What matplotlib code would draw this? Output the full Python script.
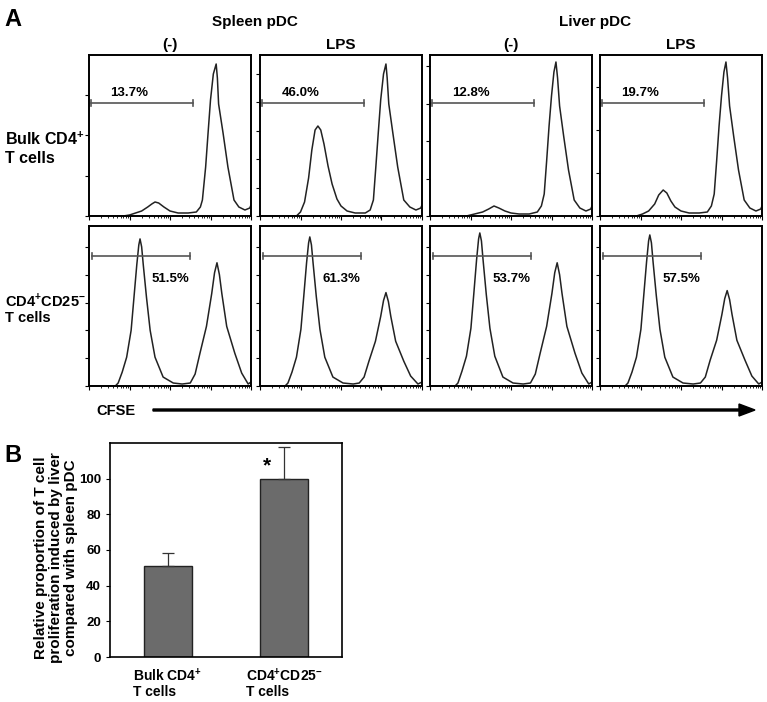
import matplotlib.pyplot as plt
from matplotlib.patches import FancyArrow
from matplotlib.ticker import MultipleLocator, LogLocator, NullFormatter

plt.rcParams['font.family'] = ['Liberation Sans', 'DejaVu Sans']
plt.rcParams['font.weight'] = 'bold'
plt.rcParams['mathtext.fontset'] = 'custom'
plt.rcParams['mathtext.rm'] = 'Liberation Sans:bold'
plt.rcParams['mathtext.bf'] = 'Liberation Sans:bold'

W, H = 767, 702

# ---- panel A data: CFSE histograms (x in log decades, y in counts) ----
group_titles = ['Spleen pDC', 'Liver pDC']
col_titles = ['(-)', 'LPS', '(-)', 'LPS']
row_labels = ['Bulk CD4$^{\\mathbf{+}}$\nT cells', 'CD4$^{\\mathbf{+}}$CD25$^{\\mathbf{-}}$\nT cells']
gate_labels = [['13.7%', '46.0%', '12.8%', '19.7%'],
               ['51.5%', '61.3%', '53.7%', '57.5%']]

spl_ctrl_bulk_x = [0, 0.85, 1.0, 1.15, 1.3, 1.45, 1.55, 1.63, 1.72, 1.85, 2.0, 2.2, 2.45, 2.65, 2.75,
                   2.8, 2.88, 2.94, 3.0, 3.07, 3.14, 3.17, 3.2, 3.31, 3.43, 3.58, 3.7, 3.85, 3.97, 4.0]
spl_ctrl_bulk_y = [0, 0, 1, 3, 5, 9, 12, 14, 13, 9, 5, 3, 3, 4, 9,
                   16, 49, 83, 116, 142, 152, 138, 112, 83, 49, 16, 9, 6, 8, 11]

spl_lps_bulk_x = [0, 0.9, 1.0, 1.1, 1.2, 1.28, 1.36, 1.43, 1.5, 1.58, 1.68, 1.78, 1.9, 2.0, 2.15, 2.35, 2.6,
                  2.72, 2.8, 2.86, 2.92, 2.98, 3.05, 3.11, 3.14, 3.18, 3.28, 3.4, 3.55, 3.7, 3.85, 3.97, 4.0]
spl_lps_bulk_y = [0, 0, 4, 14, 38, 66, 86, 90, 86, 72, 50, 32, 17, 10, 5, 3, 3,
                  6, 16, 49, 83, 116, 142, 152, 138, 112, 83, 49, 16, 9, 6, 8, 11]

liv_ctrl_bulk_x = [0, 0.9, 1.1, 1.3, 1.45, 1.58, 1.7, 1.85, 2.0, 2.2, 2.45, 2.65, 2.75, 2.82, 2.88,
                   2.94, 3.0, 3.06, 3.11, 3.15, 3.2, 3.3, 3.42, 3.56, 3.7, 3.85, 3.97, 4.0]
liv_ctrl_bulk_y = [0, 0, 2, 4, 7, 10, 8, 5, 3, 2, 2, 4, 10, 22, 55,
                   90, 120, 144, 154, 138, 110, 80, 46, 16, 8, 5, 7, 10]

liv_lps_bulk_x = [0, 0.9, 1.05, 1.2, 1.35, 1.45, 1.56, 1.65, 1.75, 1.85, 2.0, 2.2, 2.45, 2.65, 2.75,
                  2.82, 2.88, 2.94, 3.0, 3.06, 3.11, 3.15, 3.2, 3.3, 3.42, 3.56, 3.7, 3.85, 3.97, 4.0]
liv_lps_bulk_y = [0, 0, 2, 5, 12, 21, 26, 23, 15, 9, 5, 3, 3, 4, 10,
                  22, 55, 90, 120, 144, 154, 138, 110, 80, 46, 16, 8, 5, 7, 10]

spl_ctrl_25_x = [0, 0.65, 0.72, 0.82, 0.93, 1.04, 1.11, 1.18, 1.23, 1.26, 1.3, 1.34, 1.42, 1.51, 1.63,
                 1.83, 2.08, 2.3, 2.5, 2.62, 2.74, 2.9, 3.03, 3.1, 3.16, 3.22, 3.28, 3.4, 3.6, 3.77, 3.93, 4.0]
spl_ctrl_25_y = [0, 0, 3, 14, 29, 56, 89, 122, 142, 148, 140, 122, 89, 56, 29,
                 9, 3, 2, 3, 12, 33, 60, 93, 114, 124, 112, 93, 60, 33, 13, 2, 4]

spl_lps_25_x = [0, 0.62, 0.69, 0.79, 0.9, 1.01, 1.08, 1.15, 1.2, 1.23, 1.27, 1.31, 1.39, 1.48, 1.6,
                1.8, 2.05, 2.3, 2.45, 2.57, 2.69, 2.85, 2.98, 3.05, 3.11, 3.17, 3.23, 3.35, 3.55, 3.72, 3.9, 4.0]
spl_lps_25_y = [0, 0, 3, 14, 29, 57, 90, 124, 144, 150, 142, 124, 90, 57, 29,
                9, 3, 2, 3, 9, 25, 45, 70, 86, 94, 85, 70, 45, 25, 10, 2, 4]

liv_ctrl_25_x = [0, 0.62, 0.69, 0.79, 0.9, 1.01, 1.08, 1.15, 1.2, 1.23, 1.27, 1.31, 1.39, 1.48, 1.6,
                 1.8, 2.05, 2.3, 2.48, 2.6, 2.72, 2.88, 3.01, 3.08, 3.14, 3.2, 3.26, 3.38, 3.58, 3.75, 3.92, 4.0]
liv_ctrl_25_y = [0, 0, 3, 15, 30, 58, 92, 127, 148, 154, 146, 127, 92, 58, 30,
                 9, 3, 2, 3, 12, 33, 60, 93, 114, 124, 112, 93, 60, 33, 13, 2, 4]

liv_lps_25_x = [0, 0.62, 0.69, 0.79, 0.9, 1.01, 1.08, 1.15, 1.2, 1.23, 1.27, 1.31, 1.39, 1.48, 1.6,
                1.8, 2.05, 2.3, 2.48, 2.6, 2.72, 2.88, 3.01, 3.08, 3.14, 3.2, 3.26, 3.38, 3.58, 3.75, 3.92, 4.0]
liv_lps_25_y = [0, 0, 3, 14, 29, 57, 91, 125, 146, 152, 144, 125, 91, 57, 29,
                9, 3, 2, 3, 9, 26, 46, 72, 88, 96, 87, 72, 46, 26, 10, 2, 4]

hist_x = [[spl_ctrl_bulk_x, spl_lps_bulk_x, liv_ctrl_bulk_x, liv_lps_bulk_x],
          [spl_ctrl_25_x, spl_lps_25_x, liv_ctrl_25_x, liv_lps_25_x]]
hist_y = [[spl_ctrl_bulk_y, spl_lps_bulk_y, liv_ctrl_bulk_y, liv_lps_bulk_y],
          [spl_ctrl_25_y, spl_lps_25_y, liv_ctrl_25_y, liv_lps_25_y]]

# gate marker: start/end decade, height; label decade, height
gate_span = [(0.05, 2.57), (0.07, 2.49)]
gate_height = [113, 131]
label_pos = [(1.0, 123), (2.02, 108)]
ytick_step = [[40.5, 28.5, 37.5, 43], [28, 28, 28, 28]]

# ---- panel B data ----
b_categories = ['Bulk CD4$^{\\mathbf{+}}$\nT cells', 'CD4$^{\\mathbf{+}}$CD25$^{\\mathbf{-}}$\nT cells']
b_values = [51, 100]
b_errors = [7.5, 18]
b_yticks = [0, 20, 40, 60, 80, 100]


def px_axes(fig, left, top, right, bottom):
    return fig.add_axes([left / W, 1 - bottom / H, (right - left) / W, (bottom - top) / H])


fig = plt.figure(figsize=(W / 100, H / 100), dpi=100)

col_left = [89, 260, 430, 600]
row_top = [55, 226]
row_bottom = [216, 386]
for r in range(2):
    for c in range(4):
        ax = px_axes(fig, col_left[c], row_top[r], col_left[c] + 162, row_bottom[r])
        xs = [10 ** v for v in hist_x[r][c]]
        ax.plot(xs, hist_y[r][c], color='#222222', lw=1.1)
        ax.set_xscale('log')
        ax.set_xlim(1, 1e4)
        ax.set_ylim(0, 161)
        g0, g1 = gate_span[r]
        gh = gate_height[r]
        ax.plot([10 ** g0, 10 ** g1], [gh, gh], color='#555555', lw=1.2)
        for g in (g0, g1):
            ax.plot([10 ** g, 10 ** g], [gh - 3, gh + 3], color='#555555', lw=1.2)
        lx, ly = label_pos[r]
        ax.text(10 ** lx, ly, gate_labels[r][c], ha='center', va='center', fontsize=9.5)
        ax.xaxis.set_major_locator(LogLocator(base=10, numticks=10))
        ax.xaxis.set_minor_locator(LogLocator(base=10, subs=range(2, 10), numticks=10))
        ax.xaxis.set_major_formatter(NullFormatter())
        ax.xaxis.set_minor_formatter(NullFormatter())
        ax.yaxis.set_major_locator(MultipleLocator(ytick_step[r][c]))
        ax.set_yticklabels([])
        ax.tick_params(axis='x', which='major', direction='out', length=3, width=0.8)
        ax.tick_params(axis='x', which='minor', direction='out', length=1.5, width=0.6)
        ax.tick_params(axis='y', direction='out', length=3, width=0.8)
        for s in ax.spines.values():
            s.set_linewidth(1.4)

fig.text(4 / W, 1 - 20 / H, 'A', fontsize=17, va='center', ha='left')
fig.text(255 / W, 1 - 22 / H, group_titles[0], fontsize=11, ha='center', va='center')
fig.text(595 / W, 1 - 22 / H, group_titles[1], fontsize=11, ha='center', va='center')
for c in range(4):
    fig.text((col_left[c] + 81) / W, 1 - 45 / H, col_titles[c], fontsize=11, ha='center', va='center')
fig.text(5 / W, 1 - 148 / H, row_labels[0], fontsize=11.5, ha='left', va='center', linespacing=1.25)
fig.text(5 / W, 1 - 308 / H, row_labels[1], fontsize=10.5, ha='left', va='center', linespacing=1.2)
fig.text(96 / W, 1 - 411 / H, 'CFSE', fontsize=10.5, ha='left', va='center')
fig.patches.append(FancyArrow(
    153 / W, 1 - 410 / H, 602 / W, 0, width=2 / H, head_width=12 / H, head_length=16 / W,
    length_includes_head=True, color='black', transform=fig.transFigure, figure=fig))

# ---- panel B ----
axb = px_axes(fig, 110, 443, 342, 657)
axb.bar([0, 1], b_values, width=0.41, color='#6b6b6b', edgecolor='#222222', linewidth=1)
axb.errorbar([0, 1], b_values, yerr=[[0, 0], b_errors], fmt='none', ecolor='#333333',
             elinewidth=0.9, capsize=4, capthick=0.9)
axb.text(0.85, 107, '*', fontsize=15, ha='center', va='center')
axb.set_xlim(-0.5, 1.5)
axb.set_ylim(0, 120)
axb.set_yticks(b_yticks)
axb.set_yticklabels([str(v) for v in b_yticks], fontsize=9.5)
axb.set_xticks([0, 1])
axb.set_xticklabels(b_categories, fontsize=10, multialignment='left', linespacing=1.05)
axb.tick_params(axis='x', length=0, pad=7)
axb.tick_params(axis='y', direction='out', length=3, width=0.8)
for s in axb.spines.values():
    s.set_linewidth(1.2)
fig.text(4 / W, 1 - 455 / H, 'B', fontsize=17, va='center', ha='left')
fig.text(56 / W, 1 - 558 / H, 'Relative proportion of T cell\nproliferation induced by liver\ncompared with spleen pDC',
         rotation=90, fontsize=11, ha='center', va='center', multialignment='center', linespacing=1.1)

fig.savefig('out.png', dpi=100)
plt.close(fig)
